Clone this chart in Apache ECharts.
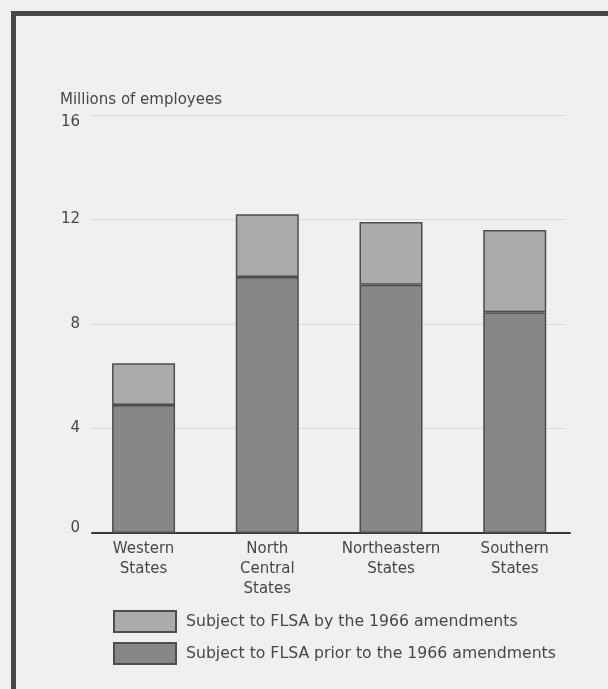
<!DOCTYPE html>
<html>
<head>
<meta charset="utf-8">
<script src="https://cdn.jsdelivr.net/npm/echarts@6/dist/echarts.min.js"></script>
<style>
html,body{margin:0;padding:0;background:#f0f0ee;}
#chart{width:608px;height:689px;}
</style>
</head>
<body>
<div id="chart"></div>
<script>
const categories = ['Western\nStates', 'North\nCentral\nStates', 'Northeastern\nStates', 'Southern\nStates'];
const priorCoverage = [4.9, 9.8, 9.5, 8.45];
const newCoverage = [1.6, 2.4, 2.4, 3.15];
const yTickValues = [0, 4, 8, 12, 16];
const seriesNames = ['Subject to FLSA prior to the 1966 amendments', 'Subject to FLSA by the 1966 amendments'];
const axisTitle = 'Millions of employees';

const FONT = 'DejaVu Sans';
const TXT = '#474747';
const yMin = yTickValues[0], yMax = yTickValues[yTickValues.length - 1], yStep = yTickValues[1] - yTickValues[0];

const chart = echarts.init(document.getElementById('chart'), null, {renderer: 'canvas'});
chart.setOption({
  animation: false,
  backgroundColor: '#f0f0ee',
  title: {
    text: axisTitle, left: 55, top: 88,
    textStyle: {fontFamily: FONT, fontSize: 15, fontWeight: 'normal', color: TXT}
  },
  graphic: [{
    type: 'rect', silent: true, z: 100,
    shape: {x: 13.5, y: 13.5, width: 800, height: 900},
    style: {fill: 'none', stroke: '#474747', lineWidth: 5}
  }],
  legend: {
    orient: 'vertical', left: 113, top: 610, padding: 0,
    itemWidth: 62, itemHeight: 21, itemGap: 9,
    icon: 'rect',
    data: [seriesNames[1], seriesNames[0]],
    textStyle: {fontFamily: FONT, fontSize: 15.7, color: TXT, padding: [0, 0, 0, 5]}
  },
  grid: [
    {left: 81.7, top: 115, width: 494.9, height: 418},
    {left: 91, top: 115, width: 475, height: 418},
    {left: 92, top: 115, width: 478, height: 418}
  ],
  xAxis: [
    {gridIndex: 0, type: 'category', data: categories,
     axisLine: {show: false}, axisTick: {show: false},
     axisLabel: {interval: 0, margin: 6, fontFamily: FONT, fontSize: 15, lineHeight: 20, color: TXT}},
    {gridIndex: 1, type: 'category', data: categories, show: false},
    {gridIndex: 2, type: 'category', data: categories,
     axisLine: {show: true, lineStyle: {color: '#383838', width: 2}},
     axisTick: {show: false}, axisLabel: {show: false}}
  ],
  yAxis: [
    {gridIndex: 0, type: 'value', min: yMin, max: yMax, interval: yStep, show: false},
    {gridIndex: 1, type: 'value', min: yMin, max: yMax, interval: yStep,
     axisLine: {show: false}, axisTick: {show: false},
     splitLine: {show: true, lineStyle: {color: '#d9d9d7', width: 1}},
     axisLabel: {
       margin: 11, fontFamily: FONT, fontSize: 15, color: TXT,
       formatter: function (v) {
         if (v === yMin) return '{z|' + v + '}';
         if (v === yMax) return '{t|' + v + '}';
         return String(v);
       },
       rich: {
         z: {fontFamily: FONT, fontSize: 15, color: TXT, padding: [0, 0, 10, 0]},
         t: {fontFamily: FONT, fontSize: 15, color: TXT, padding: [14, 0, 0, 0]}
       }
     }},
    {gridIndex: 2, type: 'value', min: yMin, max: yMax, interval: yStep, show: false}
  ],
  series: [
    {name: seriesNames[0], type: 'bar', stack: 'total', xAxisIndex: 0, yAxisIndex: 0,
     barWidth: 63, data: priorCoverage,
     itemStyle: {color: '#878787', borderColor: '#4e4e4e', borderWidth: 1.5}},
    {name: seriesNames[1], type: 'bar', stack: 'total', xAxisIndex: 0, yAxisIndex: 0,
     barWidth: 63, data: newCoverage,
     itemStyle: {color: '#ababab', borderColor: '#4e4e4e', borderWidth: 1.5}}
  ]
});
</script>
</body>
</html>
